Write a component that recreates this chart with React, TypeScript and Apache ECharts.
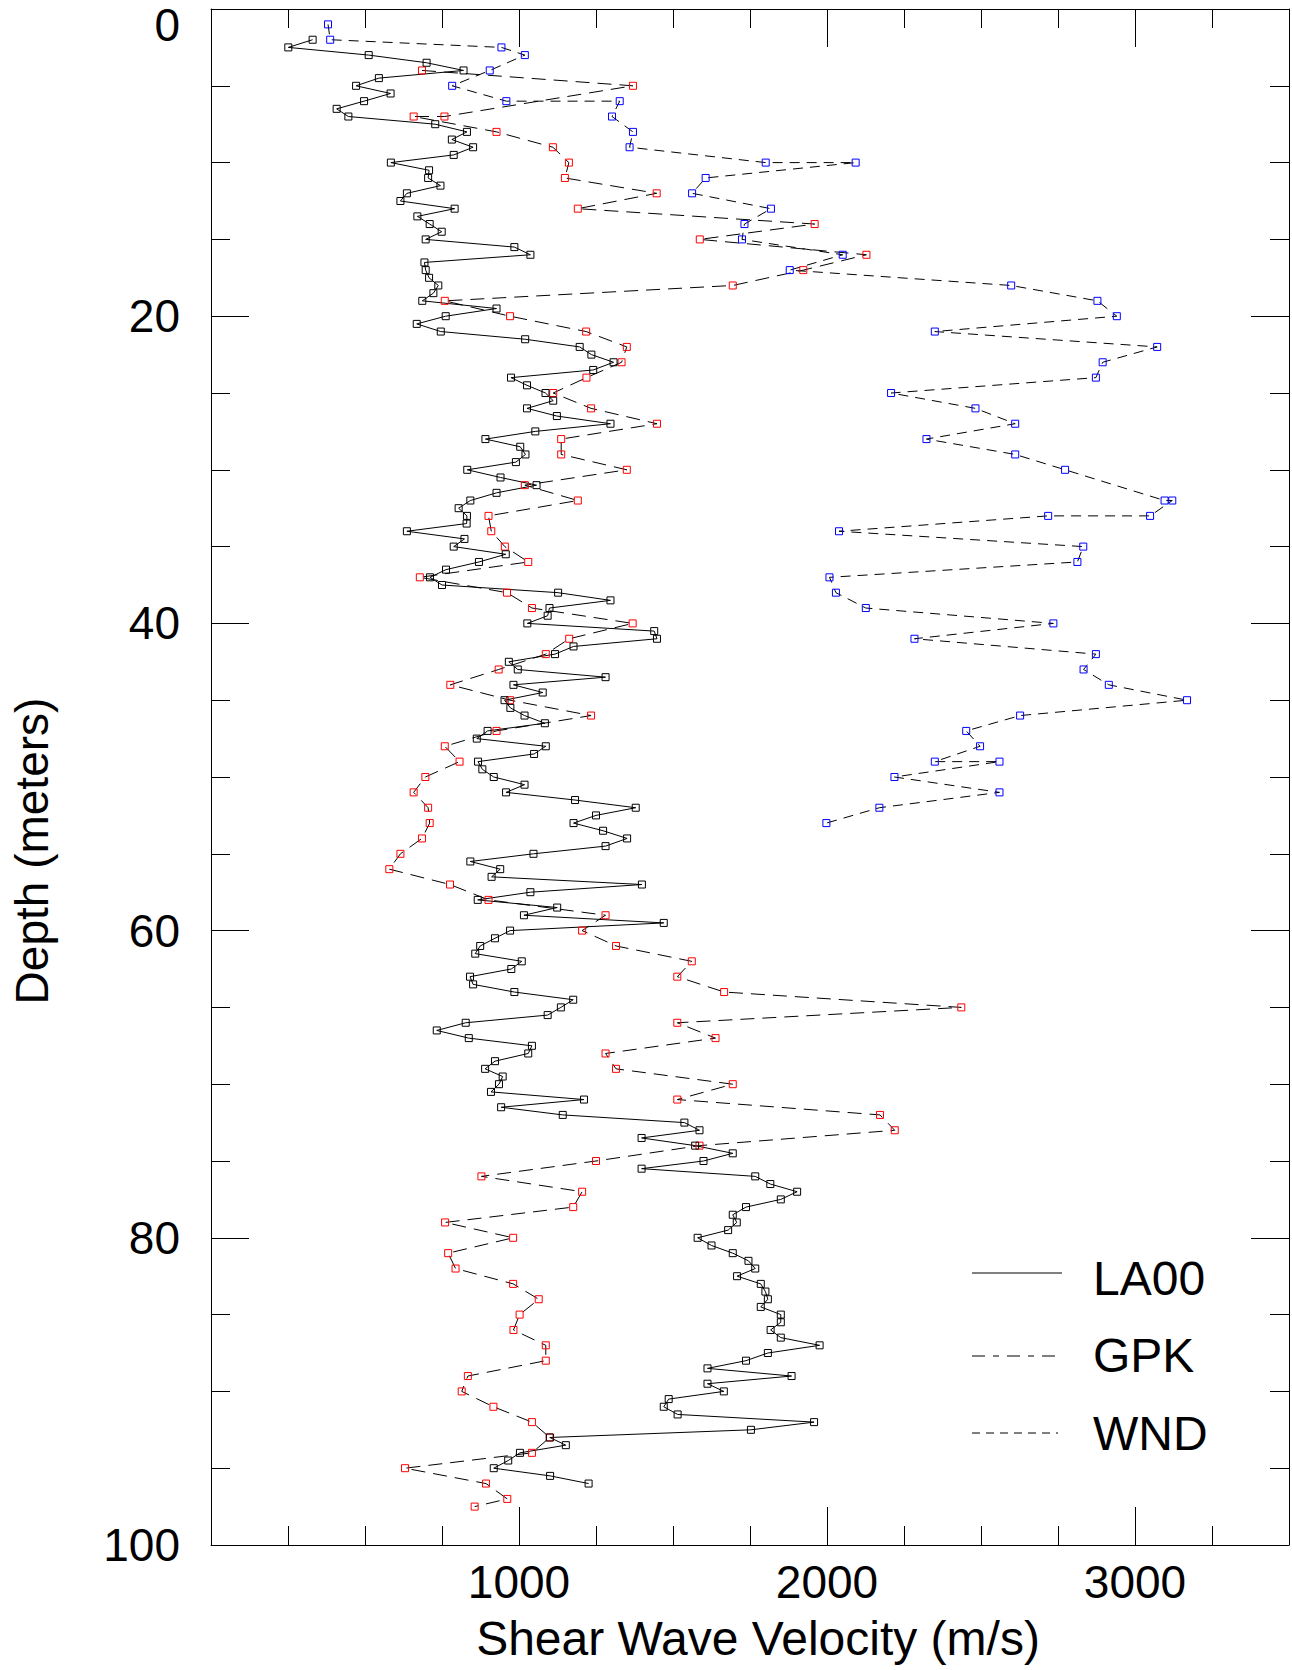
import React, { useEffect, useRef } from "react";
import * as echarts from "echarts";

// [depth (m), shear-wave velocity (m/s)]
const la00: [number, number][] = [
  [2,330],[2.5,251],[3,512],[3.5,700],[4,820],[4.5,545],[5,471],[5.5,583],[6,497],[6.5,408],[7,446],[7.5,728],[8,831],[8.5,782],[9,851],[9.5,788],[10,584],[10.5,708],[11,705],[11.5,745],[12,636],[12.5,615],[13,791],[13.5,670],[14,710],[14.5,749],[15,697],[15.5,985],[16,1037],[16.5,693],[17,697],[17.5,708],[18,738],[18.5,722],[19,686],[19.5,927],[20,762],[20.5,668],[21,746],[21.5,1020],[22,1197],[22.5,1235],[23,1307],[23.5,1241],[24,974],[24.5,1026],[25,1086],[25.5,1111],[26,1026],[26.5,1123],[27,1297],[27.5,1053],[28,891],[28.5,1004],[29,1021],[29.5,990],[30,832],[30.5,940],[31,1057],[31.5,927],[32,842],[32.5,804],[33,831],[33.5,830],[34,636],[34.5,823],[35,788],[35.5,957],[36,870],[36.5,763],[37,711],[37.5,750],[38,1127],[38.5,1297],[39,1099],[39.5,1093],[40,1027],[40.5,1439],[41,1448],[41.5,1177],[42,1117],[42.5,967],[43,996],[43.5,1281],[44,982],[44.5,1077],[45,953],[45.5,972],[46,1018],[46.5,1084],[47,898],[47.5,863],[48,1087],[48.5,1049],[49,867],[49.5,881],[50,918],[50.5,1018],[51,958],[51.5,1182],[52,1379],[52.5,1250],[53,1177],[53.5,1273],[54,1351],[54.5,1281],[55,1047],[55.5,842],[56,939],[56.5,911],[57,1399],[57.5,1037],[58,866],[58.5,1124],[59,1016],[59.5,1470],[60,971],[60.5,922],[61,874],[61.5,858],[62,1009],[62.5,975],[63,841],[63.5,851],[64,985],[64.5,1176],[65,1136],[65.5,1093],[66,827],[66.5,733],[67,837],[67.5,1042],[68,1030],[68.5,922],[69,890],[69.5,947],[70,935],[70.5,909],[71,1211],[71.5,942],[72,1142],[72.5,1537],[73,1586],[73.5,1398],[74,1572],[74.5,1694],[75,1599],[75.5,1398],[76,1767],[76.5,1816],[77,1903],[77.5,1850],[78,1737],[78.5,1694],[79,1707],[79.5,1679],[80,1580],[80.5,1625],[81,1694],[81.5,1745],[82,1767],[82.5,1708],[83,1785],[83.5,1800],[84,1808],[84.5,1785],[85,1850],[85.5,1850],[86,1817],[86.5,1850],[87,1976],[87.5,1808],[88,1737],[88.5,1612],[89,1885],[89.5,1612],[90,1665],[90.5,1486],[91,1470],[91.5,1515],[92,1958],[92.5,1753],[93,1100],[93.5,1152],[94,1003],[94.5,965],[95,918],[95.5,1101],[96,1226]
];

const gpk: [number, number][] = [
  [4,685],[5,1370],[7,758],[7,658],[8,927],[9,1110],[10,1162],[11,1149],[12,1447],[13,1191],[14,1960],[15,1587],[16,2128],[17,1923],[18,1694],[19,759],[20,971],[21,1218],[22,1350],[23,1333],[24,1219],[25,1111],[26,1234],[27,1448],[28,1137],[29,1137],[30,1350],[31,1019],[32,1191],[33,901],[34,910],[35,954],[36,1030],[37,678],[38,961],[39,1042],[40,1369],[41,1163],[42,1087],[43,934],[44,777],[45,971],[46,1234],[47,927],[48,759],[49,807],[50,696],[51,658],[52,705],[53,710],[54,685],[55,615],[56,579],[57,776],[58,901],[59,1281],[60,1205],[61,1315],[62,1561],[63,1514],[64,1666],[65,2436],[66,1514],[67,1638],[68,1281],[69,1315],[70,1694],[71,1514],[72,2172],[73,2220],[74,1586],[75,1250],[76,878],[77,1205],[78,1176],[79,760],[80,981],[81,770],[82,794],[83,981],[84,1064],[85,1002],[86,982],[87,1087],[88,1087],[89,834],[90,814],[91,917],[92,1042],[93,1100],[94,1042],[95,630],[96,893],[97,962],[97.5,856]
];

const wnd: [number, number][] = [
  [1,380],[2,387],[2.5,943],[3,1019],[4,905],[5,783],[6,959],[6,1327],[7,1302],[8,1370],[9,1359],[10,1801],[10,2093],[11,1606],[12,1562],[13,1818],[14,1732],[15,1724],[16,2051],[17,1879],[18,2598],[19,2878],[20,2941],[21,2350],[22,3072],[23,2895],[24,2873],[25,2208],[26,2482],[27,2611],[28,2323],[29,2611],[30,2773],[32,3096],[32,3121],[33,3049],[33,2718],[34,2039],[35,2832],[36,2813],[37,2008],[38,2029],[39,2126],[40,2735],[41,2284],[42,2873],[43,2833],[44,2915],[45,3169],[46,2627],[47,2452],[48,2497],[49,2350],[49,2560],[50,2219],[51,2560],[52,2170],[53,1998]
];

const seriesNames = ["LA00", "GPK", "WND"];
const xTickLabels = [1000, 2000, 3000];
const yTickLabels = [0, 20, 40, 60, 80, 100];

const FONT = "Liberation Sans";

export default function App() {
  const ref = useRef<HTMLDivElement>(null);
  useEffect(() => {
    if (!ref.current) return;
    const chart = echarts.init(ref.current, undefined, { renderer: "svg" });
    const toXY = (arr: [number, number][]) => arr.map(([d, v]) => [v, d]);
    const baseX = {
      type: "value",
      min: 0,
      max: 3500,
      splitLine: { show: false },
      axisLabel: { show: false },
    };
    const baseY = {
      type: "value",
      inverse: true,
      min: 0,
      max: 100,
      interval: 20,
      splitLine: { show: false },
      minorSplitLine: { show: false },
      axisLine: { show: true, onZero: false, lineStyle: { color: "#000", width: 1 } },
      axisTick: { show: true, inside: true, length: 38, lineStyle: { color: "#000" } },
      minorTick: { show: true, splitNumber: 4, length: 19, lineStyle: { color: "#000" } },
    };
    const symbolSeries = (name: string, data: [number, number][], color: string, dash: any) => ({
      name,
      type: "line",
      data: toXY(data),
      xAxisIndex: 0,
      yAxisIndex: 0,
      symbol: "rect",
      symbolSize: 7,
      showSymbol: true,
      showAllSymbol: true,
      clip: true,
      lineStyle: { color: "#000", width: 1, type: dash },
      itemStyle: { color: "rgba(255,255,255,0)", borderColor: color, borderWidth: 1 },
      emphasis: { disabled: true },
    });
    chart.setOption({
      animation: false,
      backgroundColor: "#fff",
      grid: { left: 211, right: 0, top: 9, bottom: 125, containLabel: false },
      xAxis: [
        {
          ...baseX,
          position: "bottom",
          interval: 250,
          axisLine: { show: true, onZero: false, lineStyle: { color: "#000", width: 1 } },
          axisTick: { show: true, inside: true, length: 19, lineStyle: { color: "#000" } },
        },
        {
          ...baseX,
          position: "bottom",
          interval: 1000,
          axisLine: { show: false, onZero: false },
          axisTick: { show: true, inside: true, length: 38, lineStyle: { color: "#000" } },
          axisLabel: {
            show: true,
            interval: 0,
            margin: 14,
            fontSize: 46,
            fontFamily: FONT,
            color: "#000",
            formatter: (v: number) => (xTickLabels.indexOf(v) >= 0 ? String(v) : ""),
          },
        },
        {
          ...baseX,
          position: "top",
          interval: 250,
          axisLine: { show: true, onZero: false, lineStyle: { color: "#000", width: 1 } },
          axisTick: { show: true, inside: true, length: 19, lineStyle: { color: "#000" } },
        },
        {
          ...baseX,
          position: "top",
          interval: 1000,
          axisLine: { show: false, onZero: false },
          axisTick: { show: true, inside: true, length: 38, lineStyle: { color: "#000" } },
        },
      ],
      yAxis: [
        {
          ...baseY,
          position: "left",
          axisLabel: {
            show: true,
            margin: 31,
            fontSize: 46,
            fontFamily: FONT,
            color: "#000",
            showMinLabel: true,
            showMaxLabel: true,
            formatter: (v: number) =>
              yTickLabels.indexOf(v) < 0 ? "" : v === 0 ? "{z|0}" : String(v),
            rich: {
              z: { fontSize: 46, fontFamily: FONT, color: "#000", padding: [32, 0, 0, 0] },
            },
          },
        },
        {
          ...baseY,
          position: "right",
          axisLabel: { show: false },
        },
      ],
      series: [
        symbolSeries(seriesNames[2], wnd, "#0000ff", [10, 7]),
        symbolSeries(seriesNames[1], gpk, "#ff0000", [14, 8]),
        symbolSeries(seriesNames[0], la00, "#000000", "solid"),
      ],
      graphic: [
        {
          type: "text",
          x: 758,
          y: 1638,
          style: {
            text: "Shear Wave Velocity (m/s)",
            fontSize: 48,
            fontFamily: FONT,
            fill: "#000",
            align: "center",
            verticalAlign: "middle",
          },
        },
        {
          type: "text",
          x: 32,
          y: 851,
          rotation: Math.PI / 2,
          style: {
            text: "Depth (meters)",
            fontSize: 46,
            fontFamily: FONT,
            fill: "#000",
            align: "center",
            verticalAlign: "middle",
          },
        },
        {
          type: "line",
          shape: { x1: 972, y1: 1273, x2: 1062, y2: 1273 },
          style: { stroke: "#000", lineWidth: 1 },
        },
        {
          type: "line",
          shape: { x1: 972, y1: 1356, x2: 1062, y2: 1356 },
          style: { stroke: "#000", lineWidth: 1, lineDash: [13, 8, 6, 8] },
        },
        {
          type: "line",
          shape: { x1: 972, y1: 1433, x2: 1058, y2: 1433 },
          style: { stroke: "#000", lineWidth: 1, lineDash: [8, 6] },
        },
        ...seriesNames.map((n, i) => ({
          type: "text",
          x: 1093,
          y: [1278, 1355, 1433][i],
          style: {
            text: n,
            fontSize: 48,
            fontFamily: FONT,
            fill: "#000",
            align: "left",
            verticalAlign: "middle",
          },
        })),
      ],
    });
    return () => chart.dispose();
  }, []);
  return (
    <div
      ref={ref}
      style={{ position: "absolute", left: 0, top: 0, width: 1292, height: 1670 }}
    />
  );
}
